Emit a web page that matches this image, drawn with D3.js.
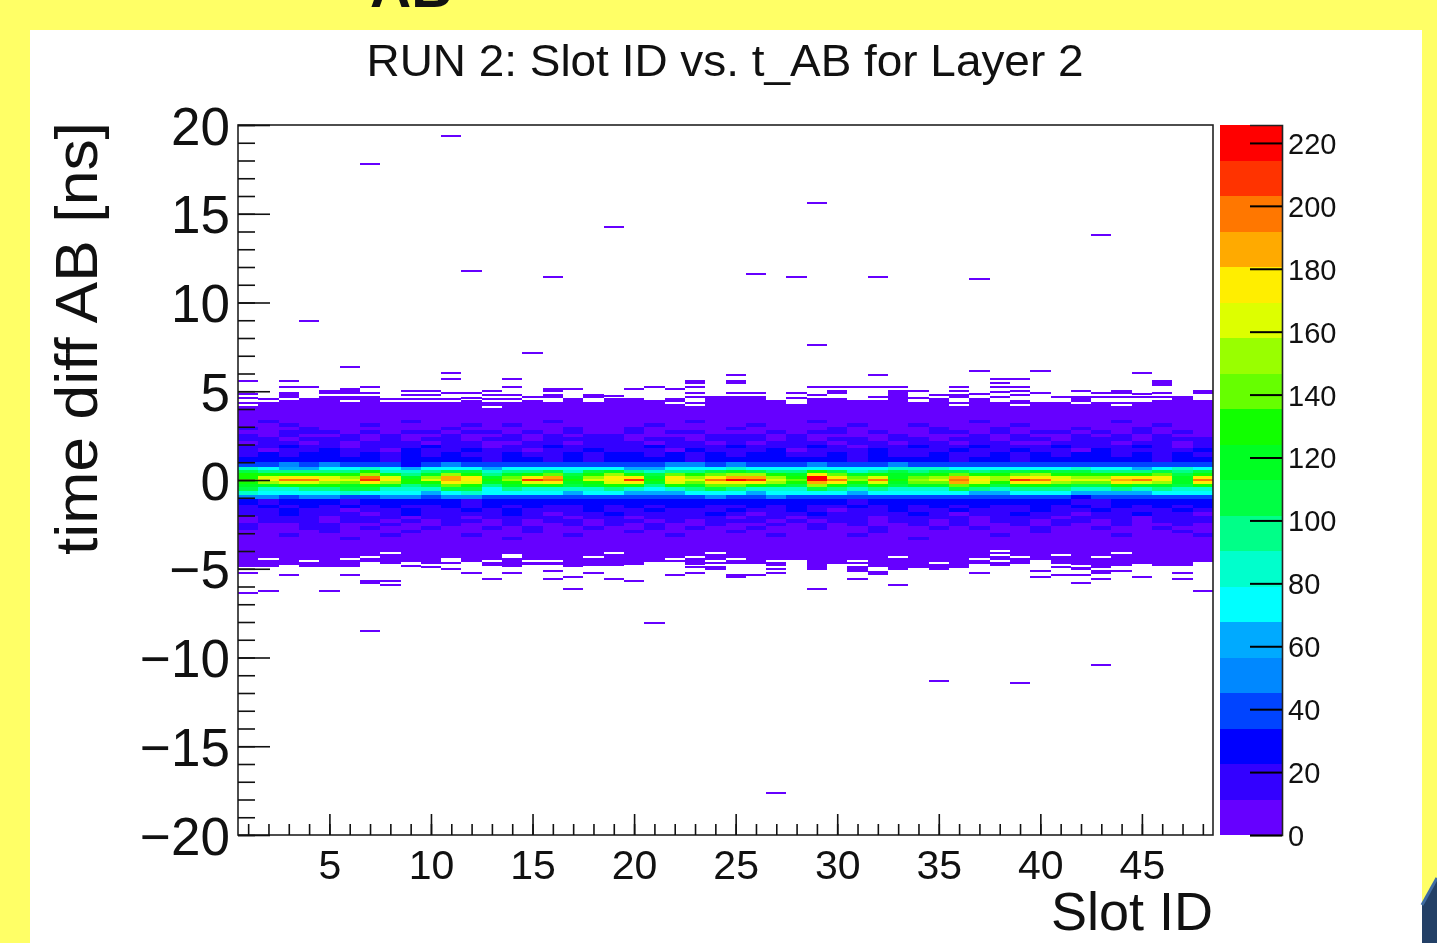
<!DOCTYPE html>
<html>
<head>
<meta charset="utf-8">
<script src="https://cdn.jsdelivr.net/npm/d3@7"></script>
<style>
html, body { margin: 0; padding: 0; background: #ffff66; overflow: hidden; }
svg { display: block; filter: blur(0.55px); }
text { font-family: "Liberation Sans", sans-serif; fill: #111; }
</style>
</head>
<body>
<svg id="chart" width="1437" height="943"></svg>
<script>
// Slots 1 to 48
const slots = d3.range(1, 49);

// palette of the colour bar, bottom to top
const palette = ['#6600ff', '#3300ff', '#0000ff', '#0044ff', '#0088ff', '#00aaff', '#00ffff',
    '#00ffcc', '#00ff88', '#00ff44', '#00ff22', '#11ff00', '#66ff00', '#99ff00', '#ddff00',
    '#ffee00', '#ffaa00', '#ff7700', '#ff3300', '#ff0000'];
const zMax = 225.7;
const zTicks = d3.range(0, 221, 20);
const xTicks = [5, 10, 15, 20, 25, 30, 35, 40, 45];
const yTicks = [-20, -15, -10, -5, 0, 5, 10, 15, 20];

// row limits in ns, top to bottom, between the solid edges
const rowEdges = [3.6, 3.4, 3.2, 3.0, 2.8, 2.6, 2.4, 2.2, 2.0, 1.8, 1.6, 1.3, 1.0, 0.75, 0.55, 0.4, 0.22, 0.06, -0.06, -0.22, -0.42, -0.62, -0.82, -1.05, -1.4, -1.6, -1.8, -2.0, -2.2, -2.4, -2.6, -2.8, -3.0, -3.2, -3.4, -3.6];

// where the solid band ends, per slot
const solidTop = [4.37,4.37,4.49,4.49,4.60,4.60,4.71,4.37,4.37,4.37,4.37,4.49,
    4.37,4.37,4.49,4.37,4.60,4.37,4.60,4.60,4.49,4.60,4.37,4.71,
    4.71,4.71,4.49,4.27,4.60,4.60,4.49,4.49,5.05,4.37,4.60,4.37,
    4.60,4.37,4.49,4.37,4.37,4.71,4.37,4.37,4.37,4.49,4.71,4.49];
const solidBottom = [-4.92,-4.92,-4.80,-4.89,-4.92,-4.89,-4.62,-4.73,-4.62,-4.73,-4.73,-4.62,
    -4.85,-4.92,-4.77,-4.77,-4.92,-4.85,-4.85,-4.77,-4.62,-4.62,-4.77,-4.73,
    -4.73,-4.73,-4.85,-4.51,-5.07,-4.73,-5.18,-4.89,-5.07,-4.73,-4.62,-4.96,
    -4.73,-4.85,-4.73,-4.51,-4.73,-4.96,-4.96,-4.85,-4.73,-4.85,-4.85,-4.62];

// counts per row, one value per slot
const rowEdgeTop = [6,6,6,6,6,6,6,6,6,6,6,6, 6,6,6,6,6,6,6,6,6,6,6,6, 6,6,6,6,6,6,6,6,6,6,6,6, 6,6,6,6,6,6,6,6,6,6,6,6];
const row01 = [6,6,6,6,6,6,6,6,6,6,6,6, 6,6,6,6,6,6,6,6,6,6,6,6, 6,6,6,6,6,6,6,6,6,6,6,6, 6,6,6,6,6,6,6,6,6,6,6,6];
const row02 = [6,17,6,6,6,6,6,6,17,6,6,6, 6,6,6,17,6,6,6,6,6,6,17,6, 6,6,6,6,17,6,6,6,6,6,6,6, 17,6,6,6,6,6,6,17,6,6,6,6];
const row03 = [6,6,17,6,6,6,17,6,6,6,6,17, 6,17,6,6,6,6,6,6,17,6,6,6, 6,17,6,6,6,6,17,6,6,17,6,6, 6,6,17,6,6,6,6,6,6,17,6,6];
const row04 = [17,6,6,17,6,6,6,6,6,6,17,6, 6,6,6,6,17,6,6,17,6,6,6,6, 17,6,6,6,6,17,6,6,6,6,17,6, 6,17,6,6,6,17,6,6,17,6,6,6];
const row05 = [6,6,17,17,17,6,17,6,17,17,6,17, 17,6,17,6,17,6,6,17,6,17,17,6, 6,6,17,6,17,17,6,17,6,6,17,17, 6,17,6,17,17,6,17,6,17,6,17,6];
const row06 = [17,6,17,6,6,17,6,17,6,6,17,6, 6,17,6,17,6,17,17,6,6,6,6,17, 17,17,6,17,6,6,6,6,17,6,6,6, 17,6,17,6,6,17,6,17,6,17,6,6];
const row07 = [17,17,6,17,17,17,6,17,6,17,17,6, 17,17,6,17,17,17,17,6,17,17,6,17, 17,17,6,17,6,17,17,6,17,17,6,17, 17,6,17,17,6,17,17,17,6,17,17,17];
const row08 = [6,17,17,6,17,6,17,17,17,6,17,17, 6,6,17,17,6,17,17,17,6,17,17,6, 17,6,17,17,17,6,17,17,6,17,17,6, 17,17,6,6,17,17,17,6,17,17,6,17];
const row09 = [17,17,29,17,17,6,17,17,17,29,17,17, 6,17,17,29,17,17,17,17,29,17,17,17, 29,17,17,17,29,17,6,17,17,29,17,17, 29,17,17,17,29,17,17,17,29,17,6,17];
const row10 = [17,6,17,17,29,17,17,6,29,17,17,29, 17,17,6,17,17,29,17,17,17,6,29,17, 17,17,29,6,17,17,17,29,17,17,17,29, 17,17,29,17,17,6,29,17,17,17,17,29];
const row11 = [17,29,17,29,29,17,29,17,29,17,29,17, 17,29,17,17,29,17,29,29,17,29,17,29, 17,29,29,17,17,29,17,29,17,17,29,17, 17,29,17,29,17,29,29,17,29,17,29,17];
const row12 = [30,29,27,25,29,25,27,20,32,28,29,27, 17,28,28,17,30,17,25,29,27,28,17,28, 30,29,27,25,29,25,17,28,28,25,29,22, 30,25,17,28,29,27,25,29,28,17,28,27];
const row13 = [45,40,50,35,50,45,35,45,25,35,50,40, 40,40,38,40,35,40,38,35,45,55,50,40, 50,40,45,45,50,40,35,45,55,40,40,35, 45,40,35,45,45,35,35,40,45,40,45,45];
const row14 = [80,75,65,62,70,70,80,70,60,70,72,75, 65,70,70,70,75,78,75,65,65,70,75,70, 85,75,75,75,75,72,70,75,85,80,80,75, 75,75,70,70,75,80,75,70,65,75,80,70];
const row15 = [105,100,100,95,100,100,125,90,80,95,110,105, 85,95,95,105,90,105,115,95,85,100,100,105, 115,110,100,95,125,105,90,100,105,100,105,110, 100,105,105,115,105,105,100,95,95,110,100,105];
const row16 = [125,130,135,130,135,125,155,120,100,120,150,135, 100,115,130,145,105,130,150,130,110,140,125,140, 150,150,125,115,170,140,120,130,115,120,125,145, 130,125,140,150,135,130,125,130,135,145,110,135];
const row17 = [130,165,170,170,160,150,200,160,120,150,190,170, 120,140,170,185,115,150,170,170,120,170,150,170, 185,190,150,130,222,180,145,160,120,145,150,190, 165,150,175,170,160,155,150,175,170,170,120,180];
const row18 = [145,177,200,200,172,165,207,172,132,160,190,172, 125,150,207,192,125,160,177,207,130,177,160,192, 218,212,165,140,226,202,155,197,125,155,160,197, 172,150,212,197,172,165,160,182,202,177,120,192];
const row19 = [135,155,165,165,150,145,170,150,125,130,175,165, 115,130,165,170,120,135,160,175,115,160,145,175, 175,170,150,125,190,170,135,165,120,140,140,185, 160,135,170,175,155,140,140,170,160,150,115,170];
const row20 = [120,115,130,125,125,120,125,120,100,105,145,130, 95,120,125,125,105,115,135,135,95,125,120,140, 140,125,115,105,150,130,110,130,105,115,115,140, 125,110,130,135,120,110,110,125,115,120,105,130];
const row21 = [105,85,85,95,100,105,105,85,80,80,105,105, 75,100,85,90,85,90,95,90,75,90,95,105, 100,90,90,85,110,100,85,95,85,90,90,105, 100,85,100,100,95,80,85,95,85,95,90,90];
const row22 = [85,70,70,75,75,85,75,72,78,65,72,80, 70,78,70,75,60,72,70,60,65,65,72,70, 72,65,70,70,75,75,65,72,70,72,75,72, 65,60,75,75,70,65,60,60,60,70,72,70];
const row23 = [55,50,40,50,50,35,45,50,50,35,55,50, 40,45,45,45,40,40,45,35,40,45,45,55, 45,45,50,45,40,45,35,45,45,40,45,35, 40,40,45,40,40,30,35,40,35,45,40,45];
const row24 = [30,20,25,28,30,22,30,27,28,26,30,22, 27,30,25,28,25,27,30,26,27,25,30,27, 30,29,25,25,28,30,20,30,28,30,25,27, 30,27,28,25,30,22,18,28,25,30,27,28];
const row25 = [17,29,17,29,17,29,17,29,17,17,29,17, 29,17,29,17,17,29,17,29,17,29,29,17, 17,29,17,29,17,17,29,17,29,17,29,17, 29,17,17,29,17,29,17,29,17,29,17,29];
const row26 = [17,17,29,17,17,6,17,17,29,17,17,29, 17,29,17,17,17,29,17,17,29,17,17,17, 29,17,17,29,17,6,17,17,29,17,17,29, 17,17,17,29,17,17,29,17,17,17,29,17];
const row27 = [17,17,29,17,17,17,6,17,29,17,17,17, 17,29,17,6,17,17,29,17,17,17,17,29, 17,6,17,17,29,17,17,17,17,29,17,6, 17,17,29,17,17,6,17,17,29,17,17,6];
const row28 = [6,17,17,17,6,17,17,17,6,17,17,6, 17,17,17,17,6,17,17,6,17,17,17,17, 6,17,17,6,17,17,17,6,17,17,17,17, 6,17,17,17,6,17,17,17,6,17,17,17];
const row29 = [6,17,17,17,6,17,17,6,17,6,17,17, 6,17,6,17,17,6,17,17,6,17,6,17, 17,17,6,17,6,17,17,6,17,17,6,17, 6,17,17,6,17,17,6,17,6,17,17,17];
const row30 = [17,6,6,17,17,6,6,17,6,6,17,6, 6,17,6,6,17,6,17,6,17,6,6,17, 6,6,17,6,17,6,17,6,6,17,6,17, 6,6,17,6,17,6,6,17,6,6,17,6];
const row31 = [17,6,6,17,17,6,17,6,6,17,6,6, 17,6,17,6,6,17,6,6,17,6,17,6, 6,17,6,6,17,6,6,17,6,6,17,6, 17,6,6,17,6,6,17,6,6,17,6,6];
const row32 = [6,6,6,6,17,6,6,6,17,6,6,6, 6,6,17,6,6,6,6,17,6,6,6,6, 17,6,6,6,6,6,6,17,6,6,6,6, 6,6,6,17,6,6,6,6,6,6,17,6];
const row33 = [6,6,17,6,6,6,6,17,6,6,6,17, 6,6,6,6,17,6,6,6,6,17,6,6, 6,6,17,6,6,6,17,6,6,6,6,6, 6,17,6,6,6,6,6,17,6,6,6,17];
const row34 = [6,6,6,6,6,17,6,6,6,6,6,6, 6,17,6,6,6,6,6,6,6,6,6,6, 6,6,6,6,6,6,6,6,6,17,6,6, 6,6,6,6,6,6,6,6,6,6,6,6];
const row35 = [6,6,6,6,6,6,6,6,6,6,6,6, 6,6,6,6,6,6,6,6,6,6,6,6, 6,6,6,6,6,6,6,6,6,6,6,6, 6,6,6,6,6,6,6,6,6,6,6,6];
const rowEdgeBottom = [6,6,6,6,6,6,6,6,6,6,6,6, 6,6,6,6,6,6,6,6,6,6,6,6, 6,6,6,6,6,6,6,6,6,6,6,6, 6,6,6,6,6,6,6,6,6,6,6,6];
const rows = [row01, row02, row03, row04, row05, row06, row07, row08, row09, row10, row11, row12,
    row13, row14, row15, row16, row17, row18, row19, row20, row21, row22, row23, row24, row25,
    row26, row27, row28, row29, row30, row31, row32, row33, row34, row35];

// single filled bins outside the solid band: [slot, ns]
const straysHigh = [[11,19.4],[7,17.8],[29,15.6],[19,14.25],[43,13.8],[12,11.8],[16,11.45],[26,11.6],[28,11.45],[32,11.45],[37,11.3],[4,8.95],[29,7.6],[15,7.15],
    [6,6.37],[1,5.58],[3,5.58],[11,6.03],[11,5.69],[14,5.69],[3,5.24],[4,5.24],[7,5.24],[14,5.24],[7,4.90],[1,4.85],[1,4.62],
    [2,4.56],[3,4.90],[3,4.79],[3,4.68],[4,4.56],[5,5.01],[5,4.90],[5,4.68],[6,5.13],[6,5.01],[6,4.90],[6,4.68],[8,4.56],
    [9,5.03],[9,4.79],[9,4.56],[10,5.03],[10,4.79],[10,4.56],[11,4.90],[11,4.56],[12,4.90],[12,4.62],[13,5.01],[13,4.79],[13,4.56],[14,4.79],[14,4.56],
    [15,4.68],[16,5.13],[16,5.01],[16,4.79],[16,4.68],[17,5.13],[18,4.79],[18,4.68],[19,4.73],[20,5.13],[21,5.24],[22,5.13],[23,5.58],[23,5.47],[23,5.24],[23,4.90],[23,4.68],
    [25,5.92],[25,5.58],[25,5.47],[25,4.90],[26,4.90],[28,4.90],[28,4.62],[29,5.24],[29,4.79],[30,5.24],[30,5.01],[30,4.90],[31,5.24],[32,5.92],[32,5.24],[32,4.68],[33,5.24],
    [34,5.01],[34,4.62],[35,4.79],[36,5.24],[36,5.01],[36,4.79],[36,4.68],[37,6.14],[37,4.82],[38,5.69],[38,5.47],[38,5.24],[38,4.96],[38,4.68],[39,5.69],[39,5.24],[39,5.01],[39,4.79],
    [40,6.14],[40,4.90],[41,4.68],[42,5.01],[42,4.60],[43,4.90],[43,4.68],[44,5.03],[44,4.90],[44,4.68],[45,6.03],[45,4.82],[45,4.68],[46,5.58],[46,5.47],[46,5.36],[46,4.90],[46,4.68],[48,5.01],[48,4.90]];
const straysLow = [[7,-8.5],[21,-8.05],[35,-11.3],[39,-11.45],[43,-10.4],[27,-17.65],
    [1,-5.26],[1,-6.39],[2,-6.27],[3,-5.37],[5,-6.27],[6,-5.37],[7,-5.71],[7,-5.82],[8,-5.71],[8,-5.93],[9,-4.85],[10,-4.89],[11,-5.03],[12,-5.26],[13,-5.60],[14,-5.26],
    [16,-5.15],[16,-5.60],[17,-5.48],[17,-6.16],[18,-5.26],[19,-5.60],[20,-5.71],[22,-5.37],[23,-4.92],[23,-5.26],[24,-4.92],[24,-5.03],
    [25,-5.37],[25,-5.48],[26,-5.37],[27,-5.03],[27,-5.26],[29,-6.16],[31,-5.60],[32,-5.18],[32,-5.29],[33,-5.93],[34,-4.80],[34,-4.92],[35,-4.77],[35,-4.92],[35,-5.03],
    [37,-5.26],[40,-5.15],[40,-5.48],[41,-4.89],[41,-5.37],[42,-5.03],[42,-5.37],[42,-5.82],[43,-5.15],[43,-5.26],[43,-5.60],[44,-5.15],[45,-5.48],[47,-5.26],[47,-5.60],[48,-6.27]];

// empty bins inside the solid band: [slot, ns]
const gaps = [[1,4.23],[6,4.45],[13,4.11],[22,4.34],[23,4.23],[36,4.23],[39,4.23],[42,4.34],[44,4.23],
    [2,-4.47],[4,-4.58],[6,-4.47],[7,-4.36],[8,-4.13],[11,-4.45],[11,-4.56],[13,-4.58],[14,-4.24],[14,-4.36],[15,-4.58],[16,-4.58],[18,-4.36],[19,-4.13],[22,-4.47],[23,-4.36],[24,-4.13],[24,-4.58],
    [25,-4.47],[27,-4.58],[31,-4.58],[31,-4.80],[33,-4.36],[37,-4.47],[38,-4.02],[38,-4.24],[38,-4.58],[39,-4.36],[41,-4.24],[42,-4.85],[43,-4.36],[44,-4.13]];

window.onload = function() {
    const svg = d3.select('#chart');

    const x = d3.scaleLinear().domain([0.5, 48.5]).range([238, 1213]);
    const y = d3.scaleLinear().domain([-20, 20]).range([835, 125]);
    const zBar = d3.scaleLinear().domain([0, zMax]).range([835, 125]);
    const color = d3.scaleQuantize().domain([0, zMax]).range(palette);

    //white panel
    svg.append('rect')
        .attr('x', 30)
        .attr('y', 30)
        .attr('width', 1392)
        .attr('height', 913)
        .attr('fill', 'white');

    //cut off heading at the top of the slide
    svg.append('text')
        .attr('x', 370)
        .attr('y', 7)
        .attr('font-size', 57)
        .attr('font-weight', 'bold')
        .text('AB');

    //corner of the slide
    svg.append('path')
        .attr('d', 'M1437 878 L1422 905 V943 H1437 Z')
        .attr('fill', '#234066');
    svg.append('path')
        .attr('d', 'M1437 878 L1422 905')
        .attr('stroke', '#3f6da3')
        .attr('stroke-width', 3)
        .attr('fill', 'none');

    //title
    svg.append('text')
        .attr('x', 725)
        .attr('y', 76)
        .attr('text-anchor', 'middle')
        .attr('font-size', 45)
        .attr('textLength', 717)
        .attr('lengthAdjust', 'spacingAndGlyphs')
        .text('RUN 2: Slot ID vs. t_AB for Layer 2');

    //cells
    const cells = [];
    slots.forEach((s, i) => {
        cells.push({ s: s, hi: solidTop[i], lo: rowEdges[0], v: rowEdgeTop[i] });
        rows.forEach((r, k) => {
            cells.push({ s: s, hi: rowEdges[k], lo: rowEdges[k + 1], v: r[i] });
        });
        cells.push({ s: s, hi: rowEdges[rowEdges.length - 1], lo: solidBottom[i], v: rowEdgeBottom[i] });
    });
    const plot = svg.append('g').attr('shape-rendering', 'crispEdges');
    plot.selectAll('rect.cell')
        .data(cells)
        .join('rect')
        .attr('class', 'cell')
        .attr('x', d => x(d.s - 0.5))
        .attr('y', d => y(d.hi))
        .attr('width', d => x(d.s + 0.5) - x(d.s - 0.5))
        .attr('height', d => y(d.lo) - y(d.hi))
        .attr('fill', d => color(d.v));

    //lone bins
    plot.selectAll('rect.stray')
        .data(straysHigh.concat(straysLow))
        .join('rect')
        .attr('class', 'stray')
        .attr('x', d => x(d[0] - 0.5))
        .attr('y', d => y(d[1] + 0.057))
        .attr('width', x(1.5) - x(0.5))
        .attr('height', y(0) - y(0.115))
        .attr('fill', palette[0]);
    plot.selectAll('rect.gap')
        .data(gaps)
        .join('rect')
        .attr('class', 'gap')
        .attr('x', d => x(d[0] - 0.5))
        .attr('y', d => y(d[1] + 0.057))
        .attr('width', x(1.5) - x(0.5))
        .attr('height', y(0) - y(0.115))
        .attr('fill', 'white');

    //frame
    svg.append('rect')
        .attr('x', 238)
        .attr('y', 125)
        .attr('width', 975)
        .attr('height', 710)
        .attr('fill', 'none')
        .attr('stroke', '#222')
        .attr('stroke-width', 1.6);

    //y axis, ticks point inward
    const yMinor = svg.append('g').attr('transform', 'translate(238,0)')
        .call(d3.axisLeft(y).tickValues(d3.range(-20, 21)).tickSize(-17).tickFormat(''));
    const yMajor = svg.append('g').attr('transform', 'translate(238,0)')
        .call(d3.axisLeft(y).tickValues(yTicks).tickSize(-32).tickPadding(8));
    yMajor.selectAll('text').attr('font-size', 53).attr('dy', '0.36em');

    //x axis
    const xMinor = svg.append('g').attr('transform', 'translate(0,835)')
        .call(d3.axisBottom(x).tickValues(slots).tickSize(-11).tickFormat(''));
    const xMajor = svg.append('g').attr('transform', 'translate(0,835)')
        .call(d3.axisBottom(x).tickValues(xTicks).tickSize(-21).tickPadding(14));
    xMajor.selectAll('text').attr('font-size', 41).attr('dy', '0.72em');

    [yMinor, yMajor, xMinor, xMajor].forEach(a => {
        a.select('.domain').remove();
        a.selectAll('line').attr('stroke', '#111').attr('stroke-width', 1.6);
    });

    //axis titles
    svg.append('text')
        .attr('x', 1213)
        .attr('y', 930)
        .attr('text-anchor', 'end')
        .attr('font-size', 54)
        .text('Slot ID');
    svg.append('text')
        .attr('transform', 'translate(97,122) rotate(-90)')
        .attr('text-anchor', 'end')
        .attr('font-size', 60)
        .attr('textLength', 433)
        .attr('lengthAdjust', 'spacingAndGlyphs')
        .text('time diff AB [ns]');

    //colour bar
    const bandH = zMax / palette.length;
    svg.append('g').attr('shape-rendering', 'crispEdges')
        .selectAll('rect')
        .data(palette)
        .join('rect')
        .attr('x', 1220)
        .attr('y', (d, i) => zBar((i + 1) * bandH))
        .attr('width', 62)
        .attr('height', zBar(0) - zBar(bandH))
        .attr('fill', d => d);
    const zAxis = svg.append('g').attr('transform', 'translate(1282,0)')
        .call(d3.axisRight(zBar).tickValues(zTicks).tickSize(-32).tickPadding(6));
    zAxis.select('.domain').attr('stroke', '#222').attr('stroke-width', 1.6);
    zAxis.selectAll('line').attr('stroke', '#000').attr('stroke-width', 2);
    zAxis.selectAll('text').attr('font-size', 29).attr('dy', '0.36em');
};
</script>
</body>
</html>
